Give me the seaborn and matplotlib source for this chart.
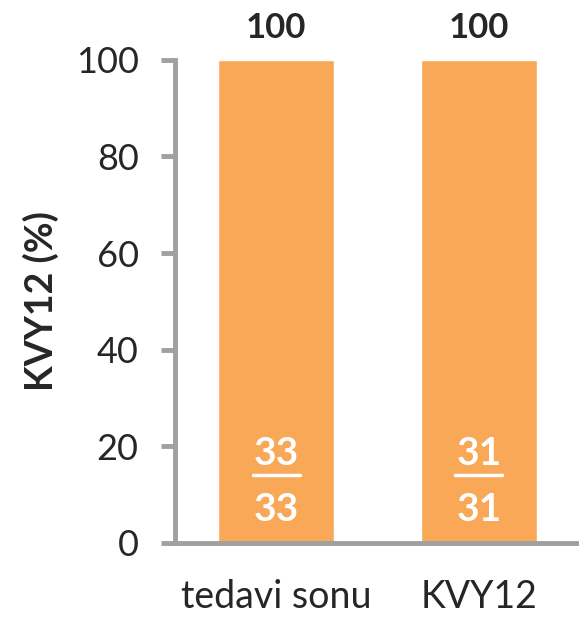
import numpy as np
import pandas as pd
import seaborn as sns
import matplotlib.pyplot as plt
from matplotlib.lines import Line2D

# chart data
groups = ['tedavi sonu', 'KVY12']
percent = [100, 100]
num = [33, 31]
den = [33, 31]

df = pd.DataFrame({'group': groups, 'pct': percent})

sns.set_style('white')
plt.rcParams['font.family'] = ['Lato', 'DejaVu Sans']

orange = '#F8A857'
gray = '#A0A0A0'

fig = plt.figure(figsize=(5.79, 6.17), dpi=100)
ax = fig.add_axes([0.302, 0.120, 0.70, 0.783])

sns.barplot(x='group', y='pct', data=df, color=orange, width=0.57,
            saturation=1, ax=ax)

ax.set_ylim(0, 100)
ax.set_xlim(-0.5, 1.5)
ax.set_yticks(range(0, 101, 20))
ax.set_xticks([-0.5, 0.5, 1.5], minor=True)
ax.tick_params(axis='x', which='major', length=0, labelsize=27, pad=26)
ax.tick_params(axis='x', which='minor', length=10, width=3.5, color=gray, direction='out')
ax.tick_params(axis='y', length=10, width=3.5, color=gray, direction='out',
               labelsize=26, pad=16, left=True)
ax.set_xlabel('')
ax.set_ylabel('KVY12 (%)', fontsize=27, fontweight='bold', labelpad=12)

sns.despine(ax=ax)
for s in ['left', 'bottom']:
    ax.spines[s].set_color(gray)
    ax.spines[s].set_linewidth(3.5)

tops = []
for i in range(len(groups)):
    ax.text(i, 104.6, str(percent[i]), ha='center', va='baseline',
            fontsize=25, fontweight='bold', clip_on=False)
    t = ax.text(i, 16.1, str(num[i]), ha='center', va='baseline',
                fontsize=28, fontweight='bold', color='white')
    ax.text(i, 4.6, str(den[i]), ha='center', va='baseline',
            fontsize=28, fontweight='bold', color='white')
    tops.append(t)

# underline the numerators (fraction bar)
fig.canvas.draw()
rend = fig.canvas.get_renderer()
for t in tops:
    bb = t.get_window_extent(rend)
    y = ax.transData.transform((0, 14.0))[1]
    fig.add_artist(Line2D([bb.x0 - 1, bb.x1 + 1], [y, y], transform=None,
                          color='white', linewidth=2.5))

fig.savefig('out.png', dpi=100)
